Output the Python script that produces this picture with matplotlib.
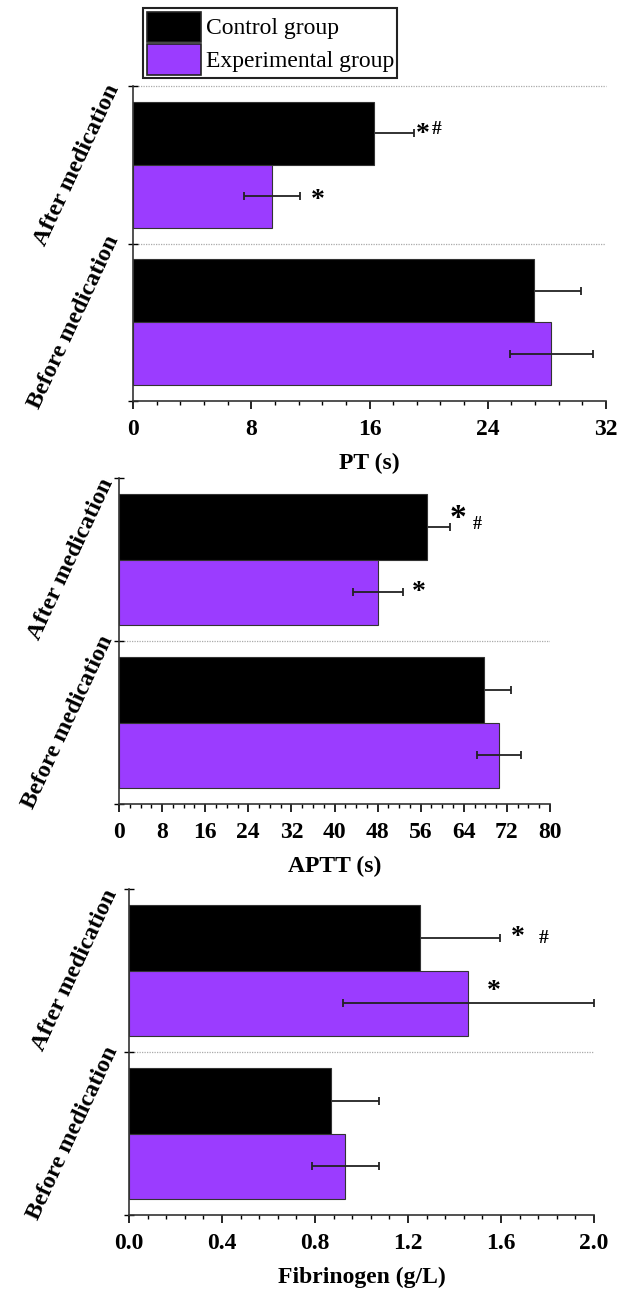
import matplotlib
matplotlib.use('Agg')
import matplotlib.pyplot as plt
from matplotlib.ticker import MultipleLocator
from matplotlib.patches import Patch
import numpy as np

# ------------------------------------------------------------------
#  DATA  (index 0 = Before medication, index 1 = After medication)
# ------------------------------------------------------------------
groups = ['Before medication', 'After medication']

pt_control    = [27.1, 16.3]
pt_control_sd = [3.2, 2.7]
pt_exp        = [28.3, 9.4]
pt_exp_sd     = [2.8, 1.9]

aptt_control    = [67.7, 57.1]
aptt_control_sd = [5.0, 4.3]
aptt_exp        = [70.5, 48.1]
aptt_exp_sd     = [4.1, 4.7]

fib_control    = [0.87, 1.25]
fib_control_sd = [0.205, 0.345]
fib_exp        = [0.93, 1.46]
fib_exp_sd     = [0.145, 0.54]

legend_labels = ['Control group', 'Experimental group']

# ------------------------------------------------------------------
#  STYLE
# ------------------------------------------------------------------
W, H, DPI = 619, 1295, 100
purple = '#9b3cff'
bar_colors = ['black', purple]
serif = ['Liberation Serif', 'DejaVu Serif']
plt.rcParams['font.family'] = serif
plt.rcParams['font.weight'] = 'bold'

fig = plt.figure(figsize=(W / DPI, H / DPI), dpi=DPI)


def px_axes(left, top, right, bottom):
    return fig.add_axes([left / W, 1 - bottom / H, (right - left) / W, (bottom - top) / H])


panels = [
    dict(rect=(133, 86, 606, 401), vals=(pt_control, pt_exp), sds=(pt_control_sd, pt_exp_sd),
         xmax=32, major=8, minor=1.6, fmt='{:.0f}', xlabel='PT (s)', top_grid=True, ypad=7,
         marks=[(0, '*', 49, -1, 20), (0, '#', 63, 4, 14), (1, '*', 46, -4, 20)]),
    dict(rect=(119, 478, 550, 804), vals=(aptt_control, aptt_exp), sds=(aptt_control_sd, aptt_exp_sd),
         xmax=80, major=8, minor=2, fmt='{:.0f}', xlabel='APTT (s)', top_grid=False, ypad=1,
         marks=[(0, '*', 31, 8, 24), (0, '#', 51, 2, 13), (1, '*', 41, 0, 20)]),
    dict(rect=(129, 889, 594, 1215), vals=(fib_control, fib_exp), sds=(fib_control_sd, fib_exp_sd),
         xmax=2.0, major=0.4, minor=0.08, fmt='{:.1f}', xlabel='Fibrinogen (g/L)', top_grid=False, ypad=5,
         marks=[(0, '*', 98, 0, 20), (0, '#', 124, -1, 14), (1, '*', 25, 12, 20)]),
]

y_center = np.arange(len(groups)) + 0.5
offsets = [0.2, -0.2]
err_z = [1.5, 3]   # control error bars sit behind the black bar

for p in panels:
    ax = px_axes(*p['rect'])
    for k in range(2):
        ax.barh(y_center + offsets[k], p['vals'][k], height=0.4, color=bar_colors[k],
                edgecolor='#333333', linewidth=0.8, zorder=2)
        ax.errorbar(p['vals'][k], y_center + offsets[k], xerr=p['sds'][k], fmt='none',
                    ecolor='#222222', elinewidth=1.3, capsize=3, capthick=1.3, zorder=err_z[k])

    # significance marks on "After medication"
    for k, txt, dx, dy, fs in p['marks']:
        ax.annotate(txt, xy=(p['vals'][k][1], y_center[1] + offsets[k]),
                    xytext=(dx, dy), textcoords='offset pixels',
                    ha='center', va='center', fontsize=fs, fontweight='bold',
                    annotation_clip=False)

    ax.set_xlim(0, p['xmax'])
    ax.set_ylim(0, len(groups))
    ax.xaxis.set_minor_locator(MultipleLocator(p['minor']))
    ticks = np.arange(0, p['xmax'] + p['major'] / 2, p['major'])
    ax.set_xticks(ticks)
    ax.set_xticklabels([p['fmt'].format(t) for t in ticks])
    ax.tick_params(axis='x', which='major', direction='out', length=6, width=1.2,
                   labelsize=17, pad=7)
    ax.tick_params(axis='x', which='minor', direction='out', length=3, width=1.0)

    ax.set_yticks([0, 1, 2])
    ax.set_yticklabels([])
    ax.set_yticks(y_center, minor=True)
    ax.set_yticklabels(groups, minor=True, rotation=65, ha='right', va='center')
    ax.tick_params(axis='y', which='major', direction='inout', length=7, width=1.0)
    ax.tick_params(axis='y', which='minor', length=0, labelsize=17.5, pad=p['ypad'])

    ax.set_xlabel(p['xlabel'], fontsize=17, fontweight='bold', labelpad=9)

    for s in ['top', 'right']:
        ax.spines[s].set_visible(False)
    for s in ['left', 'bottom']:
        ax.spines[s].set_linewidth(1.2)
        ax.spines[s].set_color('#333333')

    ax.axhline(1, color='#aaaaaa', linestyle=(0, (1, 1)), linewidth=0.9, zorder=1)
    if p['top_grid']:
        ax.axhline(2, color='#aaaaaa', linestyle=(0, (1, 1)), linewidth=0.9, zorder=1,
                   clip_on=False)

handles = [Patch(facecolor=c, edgecolor='#222222', linewidth=1.2) for c in bar_colors]
leg = fig.legend(handles, legend_labels, loc='upper left',
                 bbox_to_anchor=(143 / W, 1 - 8 / H), borderaxespad=0,
                 fancybox=False, edgecolor='#222222', framealpha=1,
                 prop={'family': serif, 'weight': 'normal', 'size': 17},
                 handlelength=2.3, handleheight=1.6, handletextpad=0.2,
                 labelspacing=0.1, borderpad=0.15)
leg.get_frame().set_linewidth(1.5)

fig.savefig('out.png', dpi=DPI)
